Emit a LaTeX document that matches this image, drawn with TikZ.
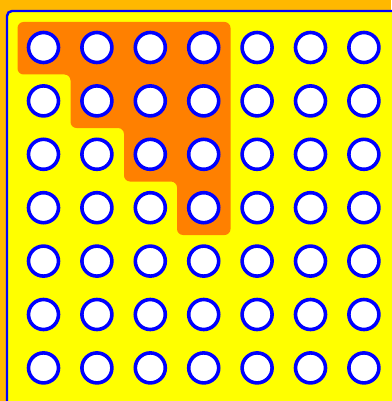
\documentclass[tikz,border=0pt]{standalone}
\usepackage{tikz}
\usetikzlibrary{positioning}
\usepackage{xcolor}
\definecolor{frameamber}{RGB}{255,184,0}
\definecolor{pegblue}{RGB}{0,0,255}
\definecolor{boardorange}{RGB}{255,128,0}
\definecolor{boardyellow}{RGB}{255,255,0}

\begin{document}
\begin{tikzpicture}[x=1pt,y=-1pt,
  hole/.style={circle,draw=pegblue,line width=3.6pt,fill=white,minimum size=30pt,inner sep=0pt}]
\useasboundingbox (0,0) rectangle (391,401);
\fill[frameamber] (0,0) rectangle (391,401);
\fill[boardyellow,rounded corners=5pt] (7,420) |- (420,11) -- (420,420) -- cycle;
\draw[pegblue,line width=2.4pt,rounded corners=5pt] (7,420) |- (420,11);
% staircase of the first four columns
\fill[boardorange,rounded corners=6pt] (17.5,22) -- (230.5,22) -- (230.5,235) -- (177,235)
  -- (177,181.5) -- (124,181.5) -- (124,128) -- (70.5,128) -- (70.5,74.5) -- (17.5,74.5) -- cycle;
\foreach \r in {1,...,7}
  \foreach \c in {1,...,7}
    \node[hole] (h-\r-\c) at ({43.5+53.4*(\c-1)},{47.5+53.4*(\r-1)}) {};
\end{tikzpicture}
\end{document}
